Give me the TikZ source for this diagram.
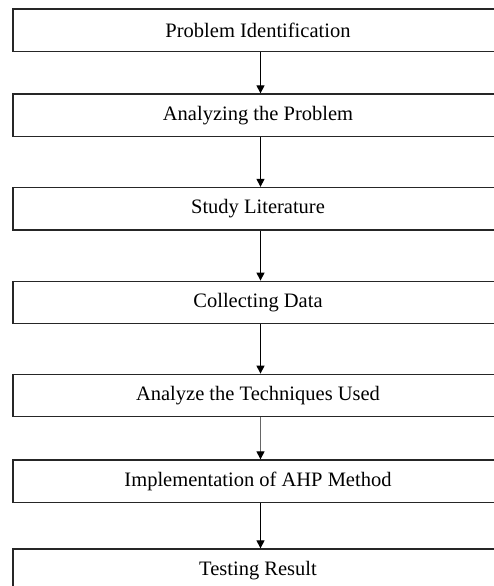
\documentclass[tikz,border=0pt]{standalone}
\usepackage{fontspec}
\setmainfont{Liberation Serif}
\usetikzlibrary{arrows.meta}
\begin{document}
\begin{tikzpicture}[x=1bp,y=-1bp,
  stepbox/.style={draw=black!85, line width=1.3bp, minimum width=490bp, minimum height=42.5bp,
    inner sep=0pt, anchor=center, font=\fontsize{20.5bp}{24bp}\selectfont},
  flow/.style={draw=black, line width=1.1bp, -{Triangle[length=8bp,width=8bp,color=black,fill=black]}}]
\useasboundingbox (0,0) rectangle (494,586);
\clip (0,0) rectangle (494,586);
\node[stepbox] (n1) at (258,30.25) {Problem Identification};
\node[stepbox] (n2) at (258,115.25) {Analyzing the Problem};
\node[stepbox] (n3) at (258,208.75) {Study Literature};
\node[stepbox] (n4) at (258,302.5) {Collecting Data};
\node[stepbox] (n5) at (258,395.5) {Analyze the Techniques Used};
\node[stepbox] (n6) at (258,481.25) {Implementation of AHP Method};
\node[stepbox] (n7) at (258,570.25) {Testing Result};
\draw[flow] ([xshift=2.5bp]n1.south) -- ([xshift=2.5bp]n2.north);
\draw[flow] ([xshift=2.5bp]n2.south) -- ([xshift=2.5bp]n3.north);
\draw[flow] ([xshift=2.5bp]n3.south) -- ([xshift=2.5bp]n4.north);
\draw[flow] ([xshift=2.5bp]n4.south) -- ([xshift=2.5bp]n5.north);
\draw[flow, draw=black!60] ([xshift=2.5bp]n5.south) -- ([xshift=2.5bp]n6.north);
\draw[flow] ([xshift=2.5bp]n6.south) -- ([xshift=2.5bp]n7.north);
\end{tikzpicture}
\end{document}
